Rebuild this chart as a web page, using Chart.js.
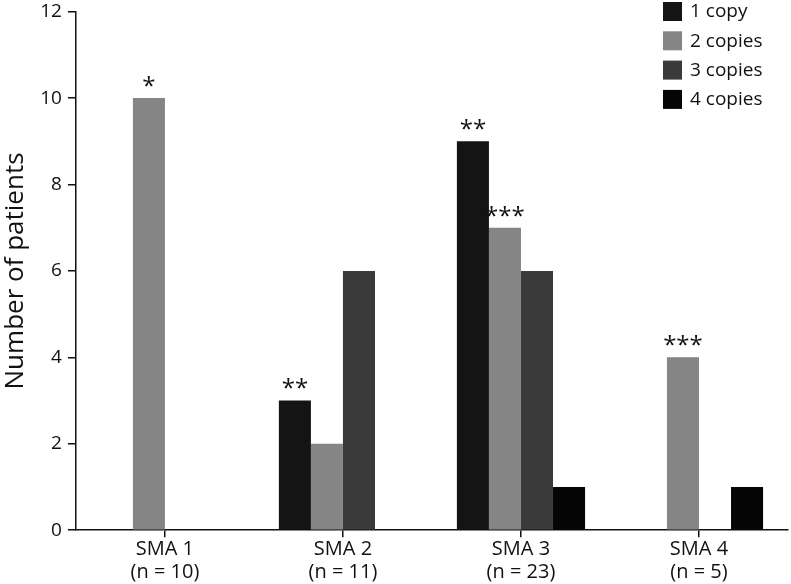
<!DOCTYPE html>
<html>
<head>
<meta charset="utf-8">
<script src="https://cdn.jsdelivr.net/npm/chart.js@4"></script>
<style>
  html, body { margin: 0; padding: 0; background: #fff; }
  #wrap { width: 791px; height: 584px; }
</style>
</head>
<body>
<div id="wrap"><canvas id="chart" width="791" height="584"></canvas></div>
<script>
// categories and series
const categories = [['SMA 1', '(n = 10)'], ['SMA 2', '(n = 11)'], ['SMA 3', '(n = 23)'], ['SMA 4', '(n = 5)']];
const seriesNames = ['1 copy', '2 copies', '3 copies', '4 copies'];
const oneCopy = [0, 3, 9, 0];
const twoCopies = [10, 2, 7, 4];
const threeCopies = [0, 6, 6, 0];
const fourCopies = [0, 0, 1, 1];
// significance marks above bars, per series
const starsOne = ['', '**', '**', ''];
const starsTwo = ['*', '', '***', '***'];
const starsThree = ['', '', '', ''];
const starsFour = ['', '', '', ''];
const yTicks = [0, 2, 4, 6, 8, 10, 12];

const colors = ['#141414', '#858585', '#3a3a3a', '#050505'];
const FONT = "'Open Sans', 'Noto Sans', sans-serif";

// draws asterisks above the bars
const starPlugin = {
    id: 'stars',
    afterDatasetsDraw(chart) {
        const ctx = chart.ctx;
        const marks = [starsOne, starsTwo, starsThree, starsFour];
        ctx.save();
        ctx.fillStyle = '#111';
        ctx.font = '24px ' + FONT;
        ctx.textAlign = 'center';
        ctx.textBaseline = 'middle';
        marks.forEach((row, di) => {
            const meta = chart.getDatasetMeta(di);
            row.forEach((s, i) => {
                if (!s) return;
                const bar = meta.data[i];
                ctx.fillText(s, bar.x, bar.y - 11);
            });
        });
        ctx.restore();
    }
};

// vertical legend in the top right corner
const legendPlugin = {
    id: 'sideLegend',
    afterDraw(chart) {
        const ctx = chart.ctx;
        ctx.save();
        ctx.font = '19px ' + FONT;
        ctx.textBaseline = 'middle';
        chart.data.datasets.forEach((ds, i) => {
            const y = 11 + i * 29.3;
            ctx.fillStyle = ds.backgroundColor;
            ctx.fillRect(663, y - 9, 19, 19);
            ctx.fillStyle = '#111';
            ctx.fillText(ds.label, 690, y + 1);
        });
        ctx.restore();
    }
};

const datasets = [oneCopy, twoCopies, threeCopies, fourCopies].map((d, i) => ({
    label: seriesNames[i],
    data: d,
    backgroundColor: colors[i],
    borderWidth: 0,
    barPercentage: 1,
    categoryPercentage: 0.72
}));

new Chart(document.getElementById('chart').getContext('2d'), {
    type: 'bar',
    data: { labels: categories, datasets: datasets },
    plugins: [starPlugin, legendPlugin],
    options: {
        responsive: false,
        animation: false,
        layout: { padding: { left: 0, right: 3, top: 0, bottom: 0 } },
        plugins: {
            legend: { display: false },
            tooltip: { enabled: false }
        },
        scales: {
            x: {
                grid: {
                    offset: false,
                    drawOnChartArea: false,
                    drawTicks: true,
                    tickLength: 7,
                    color: '#111',
                    lineWidth: 1.5
                },
                border: { color: '#111', width: 1.5 },
                ticks: {
                    color: '#111',
                    font: { family: FONT, size: 20, lineHeight: 1.12 },
                    padding: 1,
                    maxRotation: 0
                }
            },
            y: {
                min: 0,
                max: 12,
                afterBuildTicks(axis) {
                    axis.ticks = yTicks.map(v => ({ value: v }));
                },
                grid: {
                    drawOnChartArea: false,
                    drawTicks: true,
                    tickLength: 8,
                    color: '#111',
                    lineWidth: 1.5
                },
                border: { color: '#111', width: 1.5 },
                ticks: {
                    color: '#111',
                    font: { family: FONT, size: 19, lineHeight: 0.6 },
                    padding: 6
                },
                title: {
                    display: true,
                    text: 'Number of patients',
                    color: '#111',
                    font: { family: FONT, size: 26 },
                    padding: { top: 0, bottom: 3 }
                }
            }
        }
    }
});
</script>
</body>
</html>
